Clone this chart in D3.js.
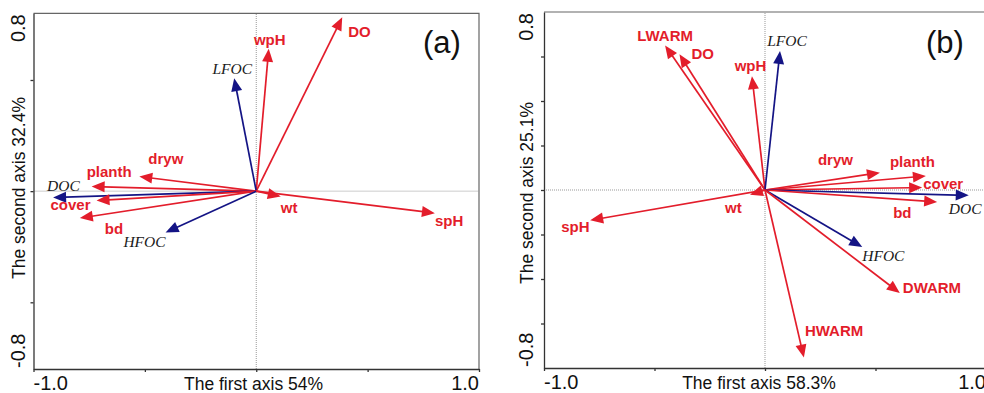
<!DOCTYPE html>
<html><head><meta charset="utf-8">
<script src="https://cdn.jsdelivr.net/npm/d3@7"></script>
<style>body{margin:0;background:#fff}svg{display:block}</style>
</head><body>
<svg id="c" width="984" height="393"></svg>
<script>
// ---------- data ----------
const namesA = ["DO","wpH","LFOC","dryw","planth","DOC","cover","bd","HFOC","wt","spH"];
const xA     = [0.386,0.056,-0.099,-0.525,-0.739,-0.912,-0.717,-0.792,-0.407,0.110,0.802];
const yA     = [0.782,0.640,0.508,0.066,0.021,-0.029,-0.042,-0.121,-0.186,-0.024,-0.099];
const kindA  = ["env","env","soc","env","env","soc","env","env","soc","env","env"];

const namesB = ["LWARM","DO","wpH","LFOC","dryw","planth","cover","DOC","bd","HFOC","DWARM","HWARM","wt","spH"];
const xB     = [-0.452,-0.387,-0.059,0.068,0.520,0.728,0.711,0.922,0.779,0.440,0.610,0.176,-0.068,-0.791];
const yB     = [0.650,0.610,0.511,0.625,0.078,0.063,0.011,-0.024,-0.054,-0.256,-0.463,-0.753,-0.021,-0.136];
const kindB  = ["env","env","env","soc","env","env","env","soc","env","soc","env","env","env","env"];

const xTickLabels = ["-1.0","1.0"];
const yTickLabels = ["0.8","-0.8"];
const titles = {a:["The first axis 54%","The second axis 32.4%","(a)"],
                b:["The first axis 58.3%","The second axis 25.1%","(b)"]};

// ---------- layout (label offsets from arrow tips, px) ----------
const labA = {DO:[6,20,"start"],wpH:[1,-4,"middle"],LFOC:[-2,-4,"middle"],dryw:[9,-12,"start"],
  planth:[-5,-9,"start"],DOC:[-6,-7,"start"],cover:[-6,10,"end"],bd:[25,16,"start"],
  HFOC:[0,14,"end"],wt:[0,17,"start"],spH:[0,13,"start"]};
const labB = {LWARM:[0,-4,"middle"],DO:[12,5,"start"],wpH:[-1.5,-5,"middle"],LFOC:[7,-5,"middle"],
  dryw:[-27,-8,"end"],planth:[-36,-9,"start"],cover:[1,1,"start"],DOC:[-20,19,"start"],
  bd:[-44,16,"start"],HFOC:[0,14,"start"],DWARM:[3,0,"start"],HWARM:[1,-22,"start"],
  wt:[-25,18,"start"],spH:[-29,12,"start"]};

const RED="#e31d2b", BLUE="#141485";
const svg = d3.select("#c");

function panel(cfg){
  const g = svg.append("g");
  const x = d3.scaleLinear().domain([-1,1]).range([cfg.left, cfg.left+cfg.w]);
  const y = d3.scaleLinear().domain([-0.8,0.8]).range([cfg.top+cfg.h, cfg.top]);
  // frame top/right
  g.append("path").attr("d",`M${cfg.left},${cfg.top}H${cfg.left+cfg.w}V${cfg.top+cfg.h}`)
    .attr("fill","none").attr("stroke","#666").attr("stroke-width",1.2);
  // zero lines
  g.append("line").attr("x1",x(-1)).attr("x2",x(1)).attr("y1",y(0)).attr("y2",y(0))
    .attr("stroke","#999").attr("stroke-width",1).attr("stroke-dasharray","1,1");
  g.append("line").attr("x1",x(0)).attr("x2",x(0)).attr("y1",y(-0.8)).attr("y2",y(0.8))
    .attr("stroke","#999").attr("stroke-width",1).attr("stroke-dasharray","1,1");
  // axes
  const ax = g.append("g").attr("transform",`translate(0,${cfg.top+cfg.h})`)
    .call(d3.axisBottom(x).tickValues([-1,-0.5,0,0.5,1]).tickSize(3).tickFormat("").tickSizeOuter(0));
  const ay = g.append("g").attr("transform",`translate(${cfg.left},0)`)
    .call(d3.axisLeft(y).tickValues(cfg.yticks).tickSize(3).tickFormat("").tickSizeOuter(0));
  [ax,ay].forEach(a=>{a.selectAll("path,line").attr("stroke","#333").attr("stroke-width",1.3);});
  // tick labels
  const tf = "'Liberation Sans', Arial, sans-serif";
  g.append("text").attr("x",x(-1)).attr("y",cfg.top+cfg.h+21).text(xTickLabels[0])
    .attr("font-family",tf).attr("font-size",20).attr("fill","#111");
  g.append("text").attr("x",x(1)).attr("y",cfg.top+cfg.h+21).attr("text-anchor","end").text(xTickLabels[1])
    .attr("font-family",tf).attr("font-size",20).attr("fill","#111");
  g.append("text").attr("transform",`translate(${cfg.left-cfg.ylab},${y(0.8)+1}) rotate(-90)`)
    .attr("text-anchor","end").text(yTickLabels[0]).attr("font-family",tf).attr("font-size",20).attr("fill","#111");
  g.append("text").attr("transform",`translate(${cfg.left-cfg.ylab},${y(-0.8)-1}) rotate(-90)`)
    .attr("text-anchor","start").text(yTickLabels[1]).attr("font-family",tf).attr("font-size",20).attr("fill","#111");
  // titles
  g.append("text").attr("x",cfg.xtx).attr("y",cfg.top+cfg.h+21).attr("text-anchor","middle")
    .text(cfg.titles[0]).attr("font-family",tf).attr("font-size",17.5).attr("fill","#111");
  g.append("text").attr("transform",`translate(${cfg.left-cfg.ylab},${cfg.yty}) rotate(-90)`)
    .attr("text-anchor","middle").text(cfg.titles[1]).attr("font-family",tf).attr("font-size",17.5).attr("fill","#111");
  g.append("text").attr("x",cfg.px).attr("y",cfg.py).attr("text-anchor","middle")
    .text(cfg.titles[2]).attr("font-family",tf).attr("font-size",31).attr("fill","#111");
  // vectors
  const data = cfg.names.map((n,i)=>({n, vx:cfg.xs[i], vy:cfg.ys[i], k:cfg.kinds[i]}));
  const L=13, HW=5.5;
  data.forEach(d=>{
    const x0=x(0), y0=y(0), x1=x(d.vx), y1=y(d.vy);
    const dx=x1-x0, dy=y1-y0, len=Math.hypot(dx,dy), ux=dx/len, uy=dy/len;
    const bx=x1-ux*L, by=y1-uy*L;
    const col = d.k==="env"?RED:BLUE;
    g.append("line").attr("x1",x0).attr("y1",y0).attr("x2",bx+ux*1).attr("y2",by+uy*1)
      .attr("stroke",col).attr("stroke-width",1.7);
    g.append("path").attr("d",`M${x1},${y1}L${bx-uy*HW},${by+ux*HW}L${bx+uy*HW},${by-ux*HW}Z`)
      .attr("fill",col);
    const lo = cfg.lab[d.n];
    const t = g.append("text").attr("x",x1+lo[0]).attr("y",y1+lo[1]).attr("text-anchor",lo[2]).text(d.n);
    if(d.k==="env") t.attr("font-family",tf).attr("font-weight","bold").attr("font-size",15).attr("fill",RED);
    else t.attr("font-family","'Liberation Serif', 'Times New Roman', serif").attr("font-style","italic")
          .attr("font-size",15.5).attr("fill","#1a1a1a");
  });
}

panel({left:33.5, top:13.3, w:445.5, h:355.7, yticks:[-0.5,0,0.5], ylab:8.5, xtx:253.5, yty:188,
  px:442, py:53, titles:titles.a, names:namesA, xs:xA, ys:yA, kinds:kindA, lab:labA});
panel({left:544, top:12, w:442, h:356, yticks:[-0.6,-0.4,-0.2,0,0.2,0.4,0.6], ylab:11, xtx:759, yty:193,
  px:945, py:53, titles:titles.b, names:namesB, xs:xB, ys:yB, kinds:kindB, lab:labB});
</script>
</body></html>
